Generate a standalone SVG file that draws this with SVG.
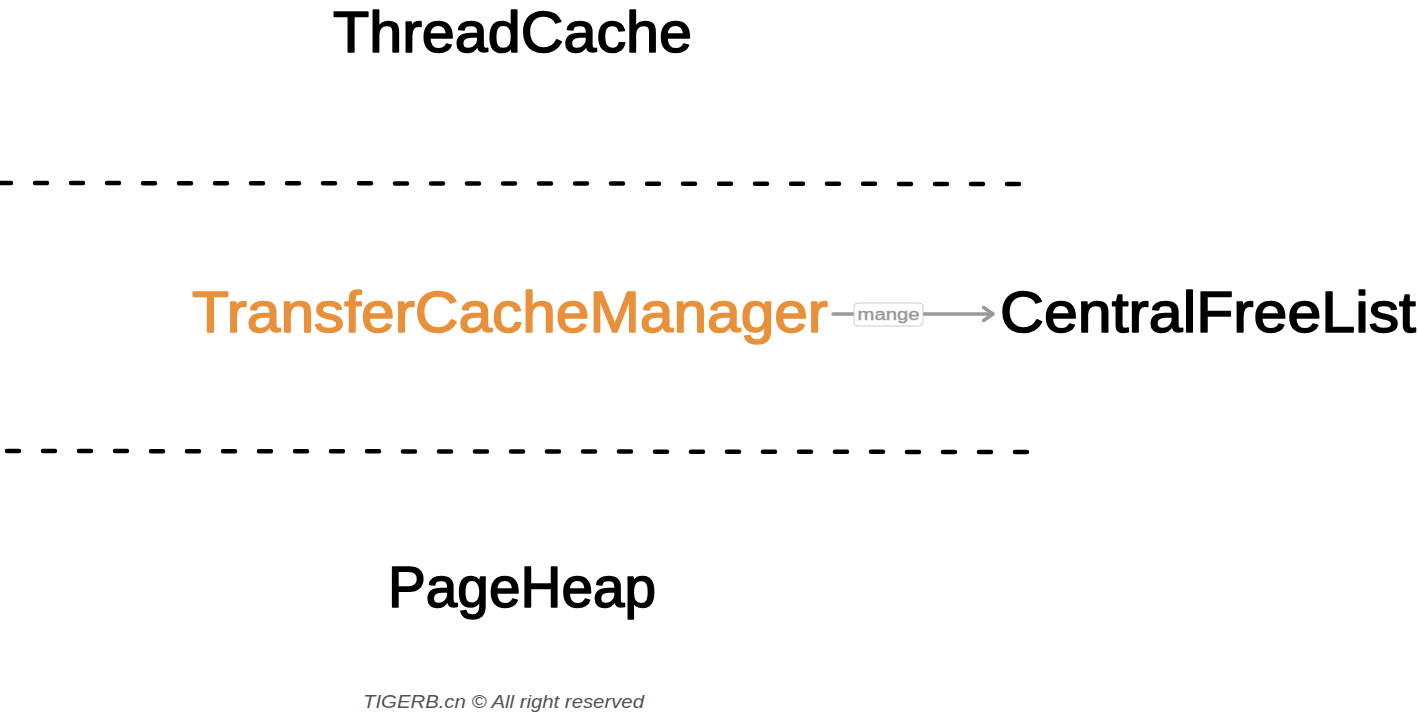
<svg xmlns="http://www.w3.org/2000/svg" width="1418" height="715" viewBox="0 0 1418 715">
<style>
.lbl{font-family:"Liberation Sans",Arial,sans-serif;font-size:58px;fill:#000;stroke:#000;stroke-width:1.6;stroke-linejoin:round}
.orange{fill:#E8913A;stroke:#E8913A}
.dash{stroke:#000;stroke-width:4.5;stroke-linecap:round;stroke-dasharray:12 24;fill:none}
.edge{stroke:#999;stroke-width:3.5;fill:none;stroke-linecap:round}
.elbl{font-family:"Liberation Sans",Arial,sans-serif;font-size:17px;fill:#999;stroke:#999;stroke-width:0.4}
.foot{font-family:"Liberation Sans",Arial,sans-serif;font-size:18px;font-style:italic;fill:#555}
</style>
<defs>
<marker id="arr" viewBox="0 0 12 16" refX="11" refY="8" markerWidth="12" markerHeight="16" markerUnits="userSpaceOnUse" orient="auto">
<path d="M1,1 L11,8 L1,15" fill="none" stroke="#999" stroke-width="3.5" stroke-linecap="round" stroke-linejoin="round"/>
</marker>
</defs>
<rect width="1418" height="715" fill="#fff"/>
<g id="separators">
<path class="dash" d="M-1,183 L1022,184"/>
<path class="dash" d="M7,451 L1028,452"/>
</g>
<g id="node-threadcache">
<text class="lbl" x="333" y="52" textLength="359" lengthAdjust="spacingAndGlyphs">ThreadCache</text>
</g>
<g id="node-transfercachemanager">
<text class="lbl orange" x="192" y="332" textLength="636" lengthAdjust="spacingAndGlyphs">TransferCacheManager</text>
</g>
<g id="node-centralfreelist">
<text class="lbl" x="1000" y="332" textLength="416" lengthAdjust="spacingAndGlyphs">CentralFreeList</text>
</g>
<g id="node-pageheap">
<text class="lbl" x="388" y="607" textLength="268" lengthAdjust="spacingAndGlyphs">PageHeap</text>
</g>
<g id="connectors">
<path class="edge" d="M833,314 L993,314" marker-end="url(#arr)"/>
<rect x="854" y="303" width="69" height="23" rx="4" fill="#fff" stroke="#ccc" stroke-width="1"/>
<text class="elbl" x="888.5" y="320" text-anchor="middle" textLength="62" lengthAdjust="spacingAndGlyphs">mange</text>
</g>
<g id="footer">
<text class="foot" x="363" y="708" textLength="281" lengthAdjust="spacingAndGlyphs">TIGERB.cn © All right reserved</text>
</g>
</svg>
